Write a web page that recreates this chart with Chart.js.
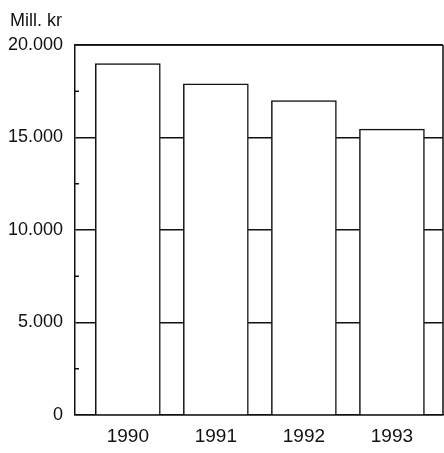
<!DOCTYPE html>
<html>
<head>
<meta charset="utf-8">
<script src="https://cdn.jsdelivr.net/npm/chart.js@4/dist/chart.umd.min.js"></script>
<style>
  html,body{margin:0;padding:0;background:#fff;}
  #wrap{width:444px;height:453px;}
</style>
</head>
<body>
<div id="wrap"><canvas id="chart" width="444" height="453"></canvas></div>
<script>
// data
const years = ['1990', '1991', '1992', '1993'];
const values = [19000, 17900, 17000, 15450];
const minorTicks = [2500, 7500, 12500, 17500];
const unitLabel = 'Mill. kr';

const FONT = '"Liberation Sans Narrow", "Arial Narrow", "Liberation Sans", sans-serif';
const fmt = v => String(v).replace(/\B(?=(\d{3})+(?!\d))/g, '.');

// frame, minor ticks on y axis and the unit text
const extras = {
  id: 'extras',
  afterDraw(chart){
    const {ctx, chartArea:a, scales:{y}} = chart;
    ctx.save();
    ctx.strokeStyle = '#111';
    ctx.lineWidth = 1.5;
    ctx.beginPath();
    ctx.moveTo(a.left, a.top); ctx.lineTo(a.right, a.top);
    ctx.moveTo(a.right, a.top); ctx.lineTo(a.right, a.bottom);
    minorTicks.forEach(v=>{
      const py = y.getPixelForValue(v);
      ctx.moveTo(a.left, py); ctx.lineTo(a.left + 4, py);
    });
    ctx.stroke();
    ctx.fillStyle = '#111';
    ctx.font = '18px ' + FONT;
    ctx.textBaseline = 'middle';
    ctx.fillText(unitLabel, 10, 21);
    ctx.restore();
  }
};

new Chart(document.getElementById('chart'), {
  type: 'bar',
  data: {
    datasets: [{
      data: years.map((yr, i) => ({x: i + 1, y: values[i]})),
      backgroundColor: '#fff',
      borderColor: '#111',
      borderWidth: 1.5,
      barThickness: 65
    }]
  },
  options: {
    responsive: false,
    animation: false,
    devicePixelRatio: 1,
    layout: {padding: {top: 45, right: 1}},
    plugins: {legend: {display: false}, tooltip: {enabled: false}},
    scales: {
      x: {
        type: 'linear',
        offset: false,
        min: 0.4, max: 4.58,
        afterFit: s => { s.height = 38; },
        afterBuildTicks: s => { s.ticks = years.map((_, i) => ({value: i + 1})); },
        grid: {display: false},
        border: {display: true, color: '#111', width: 1.5},
        ticks: {
          callback: v => years[v - 1] || '',
          color: '#111', padding: 2,
          font: {family: FONT, size: 19}
        }
      },
      y: {
        min: 0, max: 20000,
        afterFit: s => { s.width = 75; },
        grid: {color: '#111', lineWidth: 1.4, drawTicks: false},
        border: {display: true, color: '#111', width: 1.5},
        ticks: {
          stepSize: 5000,
          callback: v => fmt(v),
          color: '#111', padding: 12,
          font: {family: FONT, size: 18}
        }
      }
    }
  },
  plugins: [extras]
});
</script>
</body>
</html>
